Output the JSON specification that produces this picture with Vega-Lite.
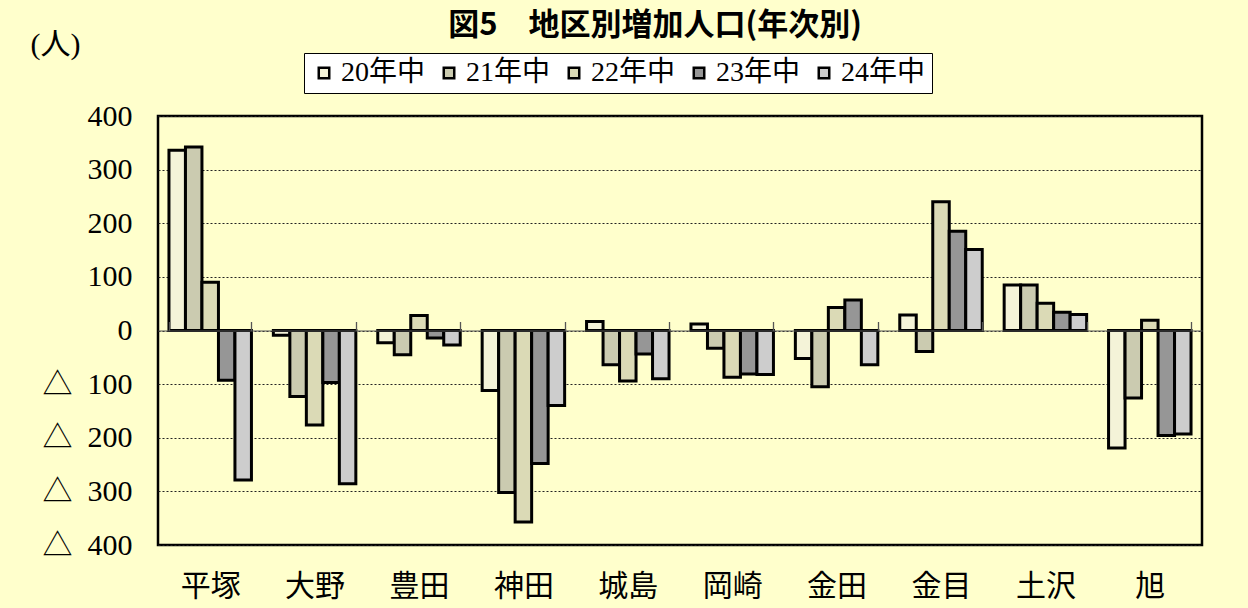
{
  "$schema": "https://vega.github.io/schema/vega-lite/v6.json",
  "width": 1044,
  "height": 429,
  "autosize": {"type": "none"},
  "padding": {"left": 158, "top": 116, "right": 46, "bottom": 63},
  "background": "#ffffcc",
  "title": {
    "text": "図5　地区別増加人口(年次別)",
    "font": "Noto Sans CJK JP",
    "fontSize": 31,
    "fontWeight": "bold",
    "color": "#000000",
    "anchor": "middle",
    "frame": "group",
    "dx": -25,
    "dy": 25,
    "offset": 12
  },
  "config": {
    "view": {"fill": "#ffffcc", "stroke": "#000000", "strokeWidth": 2.5}
  },
  "data": {
    "values": [
      {"地区": "平塚", "年": "20年中", "人": 336},
      {"地区": "平塚", "年": "21年中", "人": 342},
      {"地区": "平塚", "年": "22年中", "人": 90},
      {"地区": "平塚", "年": "23年中", "人": -93},
      {"地区": "平塚", "年": "24年中", "人": -279},
      {"地区": "大野", "年": "20年中", "人": -9},
      {"地区": "大野", "年": "21年中", "人": -123},
      {"地区": "大野", "年": "22年中", "人": -176},
      {"地区": "大野", "年": "23年中", "人": -97},
      {"地区": "大野", "年": "24年中", "人": -286},
      {"地区": "豊田", "年": "20年中", "人": -23},
      {"地区": "豊田", "年": "21年中", "人": -45},
      {"地区": "豊田", "年": "22年中", "人": 28},
      {"地区": "豊田", "年": "23年中", "人": -14},
      {"地区": "豊田", "年": "24年中", "人": -27},
      {"地区": "神田", "年": "20年中", "人": -112},
      {"地区": "神田", "年": "21年中", "人": -302},
      {"地区": "神田", "年": "22年中", "人": -357},
      {"地区": "神田", "年": "23年中", "人": -248},
      {"地区": "神田", "年": "24年中", "人": -140},
      {"地区": "城島", "年": "20年中", "人": 17},
      {"地区": "城島", "年": "21年中", "人": -64},
      {"地区": "城島", "年": "22年中", "人": -94},
      {"地区": "城島", "年": "23年中", "人": -44},
      {"地区": "城島", "年": "24年中", "人": -90},
      {"地区": "岡崎", "年": "20年中", "人": 12},
      {"地区": "岡崎", "年": "21年中", "人": -33},
      {"地区": "岡崎", "年": "22年中", "人": -87},
      {"地区": "岡崎", "年": "23年中", "人": -81},
      {"地区": "岡崎", "年": "24年中", "人": -82},
      {"地区": "金田", "年": "20年中", "人": -52},
      {"地区": "金田", "年": "21年中", "人": -105},
      {"地区": "金田", "年": "22年中", "人": 43},
      {"地区": "金田", "年": "23年中", "人": 57},
      {"地区": "金田", "年": "24年中", "人": -64},
      {"地区": "金目", "年": "20年中", "人": 29},
      {"地区": "金目", "年": "21年中", "人": -39},
      {"地区": "金目", "年": "22年中", "人": 240},
      {"地区": "金目", "年": "23年中", "人": 185},
      {"地区": "金目", "年": "24年中", "人": 151},
      {"地区": "土沢", "年": "20年中", "人": 85},
      {"地区": "土沢", "年": "21年中", "人": 85},
      {"地区": "土沢", "年": "22年中", "人": 51},
      {"地区": "土沢", "年": "23年中", "人": 34},
      {"地区": "土沢", "年": "24年中", "人": 30},
      {"地区": "旭", "年": "20年中", "人": -219},
      {"地区": "旭", "年": "21年中", "人": -126},
      {"地区": "旭", "年": "22年中", "人": 19},
      {"地区": "旭", "年": "23年中", "人": -196},
      {"地区": "旭", "年": "24年中", "人": -193}
    ]
  },
  "mark": {"type": "bar", "stroke": "#000000", "strokeWidth": 3, "strokeJoin": "miter"},
  "encoding": {
    "x": {
      "field": "地区",
      "type": "nominal",
      "sort": ["平塚", "大野", "豊田", "神田", "城島", "岡崎", "金田", "金目", "土沢", "旭"],
      "scale": {"paddingInner": 0.21, "paddingOuter": 0.105},
      "axis": {
        "title": null,
        "orient": "bottom",
        "offset": -214.5,
        "domain": true,
        "domainColor": "#555555",
        "domainWidth": 1.2,
        "ticks": true,
        "tickBand": "extent",
        "tickOffset": 11,
        "tickSize": -9,
        "tickColor": "#555555",
        "tickWidth": 1.3,
        "tickOpacity": 1,
        "labelAngle": 0,
        "labelFont": "Noto Sans CJK JP",
        "labelFontSize": 30,
        "labelColor": "#000000",
        "labelPadding": 250,
        "labelBaseline": "top",
        "zindex": 1
      }
    },
    "xOffset": {
      "field": "年",
      "type": "nominal",
      "scale": {"paddingInner": 0, "paddingOuter": 0}
    },
    "y": {
      "field": "人",
      "type": "quantitative",
      "scale": {"domain": [-400, 400], "nice": false},
      "axis": {
        "values": [-400, -300, -200, -100, 0, 100, 200, 300, 400],
        "labelExpr": "datum.value < 0 ? '△\u00a0\u00a0' + abs(datum.value) : datum.label",
        "domain": false,
        "ticks": false,
        "grid": true,
        "gridDash": [2, 2],
        "gridColor": "#222222",
        "gridWidth": 1,
        "labelFont": "Liberation Serif, Noto Sans CJK JP",
        "labelFontSize": 30,
        "labelColor": "#000000",
        "labelPadding": 26,
        "title": "(人)",
        "titleAngle": 0,
        "titleX": -128,
        "titleY": -72,
        "titleAlign": "left",
        "titleBaseline": "middle",
        "titleFont": "Liberation Serif, Noto Sans CJK JP",
        "titleFontSize": 30,
        "titleFontWeight": "normal",
        "titleColor": "#000000"
      }
    },
    "color": {
      "field": "年",
      "type": "nominal",
      "scale": {
        "domain": ["20年中", "21年中", "22年中", "23年中", "24年中"],
        "range": ["#f4f3d8", "#cbcbb0", "#dbdab6", "#969696", "#cdcdcd"]
      },
      "legend": {
        "title": null,
        "orient": "none",
        "legendX": 146,
        "legendY": -63,
        "direction": "horizontal",
        "columns": 5,
        "fillColor": "#ffffff",
        "strokeColor": "#000000",
        "padding": 6,
        "symbolType": "square",
        "symbolSize": 110,
        "symbolStrokeColor": "#000000",
        "symbolStrokeWidth": 2.5,
        "symbolOpacity": 1,
        "labelFont": "Liberation Serif, Noto Sans CJK JP",
        "labelFontSize": 28,
        "labelColor": "#000000",
        "labelOffset": 3,
        "columnPadding": 9
      }
    }
  }
}
